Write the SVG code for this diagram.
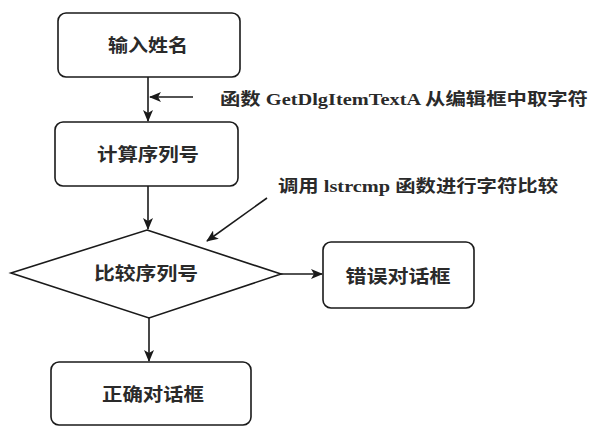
<svg xmlns="http://www.w3.org/2000/svg" width="592" height="429" viewBox="0 0 592 429">
  <style>
    .box{fill:#fff;stroke:#1a1a1a;stroke-width:1.6}
    .lbl{font-family:"Noto Sans CJK SC","Noto Sans",sans-serif;font-size:18px;font-weight:700;fill:#2a2a2a;text-anchor:middle;dominant-baseline:central}
    .note{font-family:"Liberation Serif","Noto Sans CJK SC",serif;font-size:17px;font-weight:700;fill:#2a2a2a;dominant-baseline:central}
    .edge{fill:none;stroke:#1a1a1a;stroke-width:1.6}
  </style>
  <defs>
    <marker id="ah" viewBox="0 0 12 10" refX="11" refY="5" markerWidth="12" markerHeight="10" markerUnits="userSpaceOnUse" orient="auto">
      <path d="M0,0 L12,5 L0,10 L3,5 z" fill="#1a1a1a"/>
    </marker>
  </defs>
  <rect width="592" height="429" fill="#fff"/>
  <g id="connectors">
    <line class="edge" x1="148" y1="77" x2="148" y2="121" marker-end="url(#ah)"/>
    <line class="edge" x1="193" y1="97" x2="150" y2="97" marker-end="url(#ah)"/>
    <line class="edge" x1="148" y1="186" x2="148" y2="229" marker-end="url(#ah)"/>
    <line class="edge" x1="267" y1="198" x2="207" y2="241" marker-end="url(#ah)"/>
    <line class="edge" x1="281" y1="274" x2="322" y2="274" marker-end="url(#ah)"/>
    <line class="edge" x1="149" y1="318" x2="149" y2="361" marker-end="url(#ah)"/>
  </g>
  <g id="n-input">
    <rect class="box" x="58" y="13" width="182" height="64" rx="8"/>
    <text class="lbl" x="148" y="44" textLength="80" lengthAdjust="spacingAndGlyphs">输入姓名</text>
  </g>
  <g id="n-calc">
    <rect class="box" x="55" y="122" width="183" height="64" rx="8"/>
    <text class="lbl" x="148" y="153" textLength="102" lengthAdjust="spacingAndGlyphs">计算序列号</text>
  </g>
  <g id="n-compare">
    <polygon class="box" points="147,230 281,274 149,318 11,273"/>
    <text class="lbl" x="146" y="272" textLength="104" lengthAdjust="spacingAndGlyphs">比较序列号</text>
  </g>
  <g id="n-error">
    <rect class="box" x="323" y="242" width="151" height="66" rx="8"/>
    <text class="lbl" x="398" y="275" textLength="105" lengthAdjust="spacingAndGlyphs">错误对话框</text>
  </g>
  <g id="n-ok">
    <rect class="box" x="51" y="362" width="200" height="63" rx="8"/>
    <text class="lbl" x="153" y="393" textLength="102" lengthAdjust="spacingAndGlyphs">正确对话框</text>
  </g>
  <g id="notes">
    <text class="note" x="220" y="99" textLength="368" lengthAdjust="spacingAndGlyphs">函数 GetDlgItemTextA 从编辑框中取字符</text>
    <text class="note" x="278" y="186" textLength="280" lengthAdjust="spacingAndGlyphs">调用 lstrcmp 函数进行字符比较</text>
  </g>
</svg>
